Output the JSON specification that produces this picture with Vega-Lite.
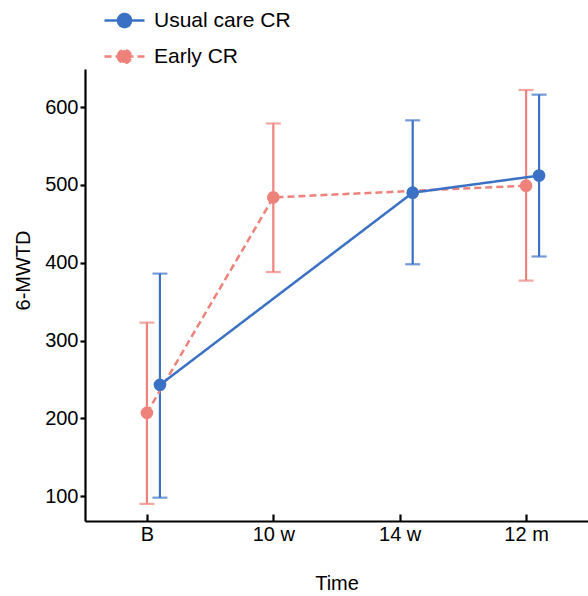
{
  "$schema": "https://vega.github.io/schema/vega-lite/v6.json",
  "autosize": {"type": "none"},
  "padding": {"left": 85, "top": 69, "right": 0, "bottom": 75},
  "width": 503,
  "height": 452,
  "data": {
    "values": [
      {"group": "Early CR", "time": "B", "mean": 207, "lo": 90, "hi": 323},
      {"group": "Early CR", "time": "10 w", "mean": 484, "lo": 388, "hi": 579},
      {"group": "Early CR", "time": "12 m", "mean": 499, "lo": 377, "hi": 622},
      {"group": "Usual care CR", "time": "B", "mean": 243, "lo": 98, "hi": 386},
      {"group": "Usual care CR", "time": "14 w", "mean": 490, "lo": 398, "hi": 583},
      {"group": "Usual care CR", "time": "12 m", "mean": 512, "lo": 408, "hi": 616}
    ]
  },
  "encoding": {
    "x": {
      "field": "time", "type": "nominal",
      "scale": {"type": "point", "domain": ["B", "10 w", "14 w", "12 m"], "padding": 0.49},
      "axis": {
        "title": "Time", "labelAngle": 0, "tickSize": -7, "labelPadding": 10,
        "titleY": 68, "titleBaseline": "alphabetic"
      }
    },
    "xOffset": {
      "field": "group", "type": "nominal",
      "scale": {"type": "point", "domain": ["Early CR", "Usual care CR"], "range": [0, 13], "padding": 0}
    },
    "color": {
      "field": "group", "type": "nominal",
      "scale": {"domain": ["Usual care CR", "Early CR"], "range": ["#3A71C4", "#EF817B"]},
      "legend": {
        "orient": "none", "legendX": 28, "legendY": -60, "title": null,
        "symbolType": "M-2,0L2,0M-0.65,0A0.65,0.65,0,1,0,0.65,0A0.65,0.65,0,1,0,-0.65,0",
        "symbolSize": 400, "labelFontSize": 21, "labelOffset": 18, "rowPadding": 13,
        "padding": 0, "labelColor": "#000", "labelFont": "Liberation Sans",
        "encode": {
          "symbols": {
            "update": {
              "fill": {"scale": "color", "field": "value"},
              "stroke": {"scale": "color", "field": "value"},
              "strokeWidth": {"value": 2.5},
              "opacity": {"value": 1},
              "fillOpacity": {"value": 1},
              "strokeDash": [
                {"test": "datum.value === 'Early CR'", "value": [7, 4]},
                {"value": [1, 0]}
              ]
            }
          }
        }
      }
    }
  },
  "layer": [
    {
      "mark": {"type": "rule", "strokeWidth": 2.2},
      "encoding": {
        "y": {"field": "lo", "type": "quantitative"},
        "y2": {"field": "hi"}
      }
    },
    {
      "mark": {"type": "tick", "size": 15, "thickness": 2.2},
      "encoding": {"y": {"field": "lo", "type": "quantitative"}}
    },
    {
      "mark": {"type": "tick", "size": 15, "thickness": 2.2},
      "encoding": {"y": {"field": "hi", "type": "quantitative"}}
    },
    {
      "mark": {"type": "line", "strokeWidth": 2.5},
      "encoding": {
        "y": {"field": "mean", "type": "quantitative"},
        "strokeDash": {
          "field": "group", "type": "nominal",
          "scale": {"domain": ["Usual care CR", "Early CR"], "range": [[1, 0], [7, 4]]},
          "legend": null
        }
      }
    },
    {
      "mark": {"type": "point", "filled": true, "size": 160, "opacity": 1},
      "encoding": {
        "y": {
          "field": "mean", "type": "quantitative",
          "scale": {"domain": [68, 649], "nice": false, "zero": false},
          "axis": {
            "title": "6-MWTD", "values": [100, 200, 300, 400, 500, 600],
            "tickSize": 5, "labelPadding": 2,
            "titleX": -56, "titleY": 201, "titleBaseline": "alphabetic", "titleAlign": "center"
          }
        }
      }
    }
  ],
  "config": {
    "view": {"stroke": null},
    "axis": {
      "grid": false,
      "domainColor": "#000", "domainWidth": 2.2,
      "tickColor": "#000", "tickWidth": 2.2,
      "labelColor": "#000", "titleColor": "#000",
      "labelFont": "Liberation Sans", "titleFont": "Liberation Sans",
      "labelFontSize": 20, "titleFontSize": 20, "titleFontWeight": "normal"
    }
  }
}
